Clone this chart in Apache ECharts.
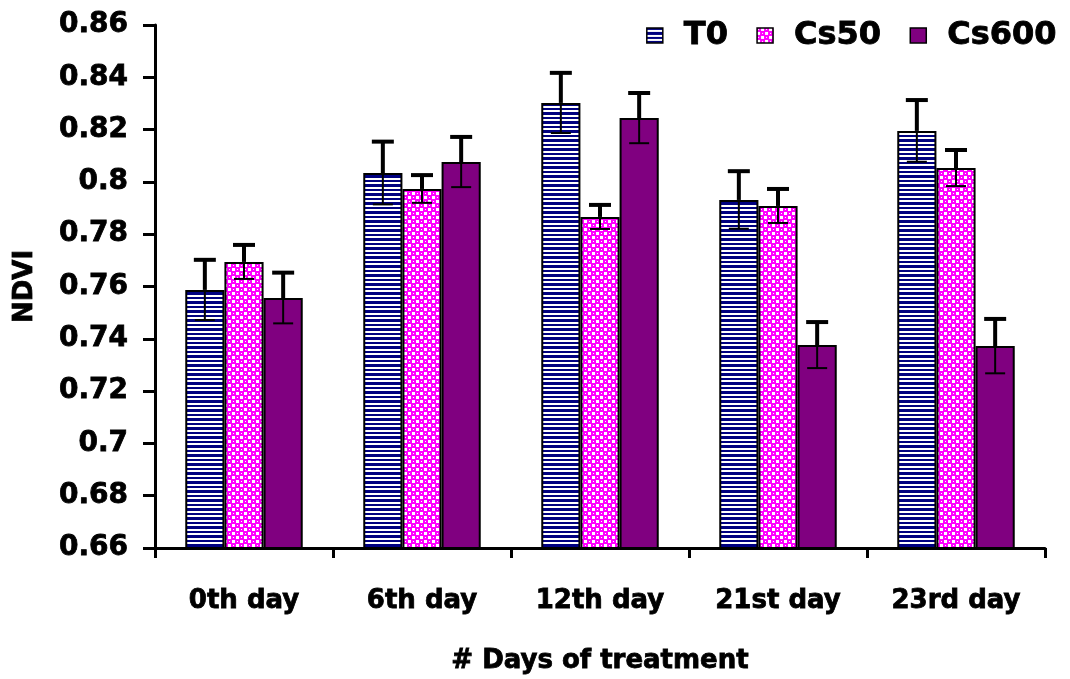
<!DOCTYPE html>
<html><head><meta charset="utf-8">
<script src="https://cdn.jsdelivr.net/npm/echarts@6/dist/echarts.min.js"></script>
<style>html,body{margin:0;padding:0;background:#fff}#c{width:1070px;height:679px}</style>
</head><body><div id="c"></div>
<script>
const categories = ['0th day', '6th day', '12th day', '21st day', '23rd day'];
const seriesNames = ['T0', 'Cs50', 'Cs600'];
const T0 = [0.7587, 0.8034, 0.8302, 0.7931, 0.8195];
const Cs50 = [0.7694, 0.7973, 0.7866, 0.7908, 0.8053];
const Cs600 = [0.7556, 0.8076, 0.8244, 0.7376, 0.7372];
const T0err = [0.0115, 0.0120, 0.0115, 0.0110, 0.0118];
const Cs50err = [0.0065, 0.0053, 0.0046, 0.0065, 0.0069];
const Cs600err = [0.0097, 0.0096, 0.0096, 0.0088, 0.0104];

function stripePattern() {
  const c = document.createElement('canvas');
  c.width = 8; c.height = 9;
  const g = c.getContext('2d');
  g.fillStyle = '#ffffff'; g.fillRect(0, 0, 8, 9);
  g.fillStyle = '#000080';
  g.fillRect(0, 0, 8, 2);
  g.fillRect(0, 4, 8, 3);
  return c;
}
function dotPattern() {
  const c = document.createElement('canvas');
  c.width = 8; c.height = 8;
  const g = c.getContext('2d');
  g.fillStyle = '#ff00ff'; g.fillRect(0, 0, 8, 8);
  g.fillStyle = '#ffffff';
  g.fillRect(4, 0, 3, 3);
  g.fillRect(0, 4, 3, 3);
  g.fillRect(1, 1, 1, 1);
  g.fillRect(5, 5, 1, 1);
  return c;
}
const colors = [
  { image: stripePattern(), repeat: 'repeat' },
  { image: dotPattern(), repeat: 'repeat' },
  '#800080'
];
const values = [T0, Cs50, Cs600];
const errs = [T0err, Cs50err, Cs600err];
const errData = [];
for (let s = 0; s < 3; s++) for (let i = 0; i < categories.length; i++) errData.push([i, s, values[s][i], errs[s][i]]);

const GAP = 0.34;
const font = 'DejaVu Sans';
const heavy = { fontFamily: font, fontWeight: 'bold', color: '#000', textBorderColor: '#000', textBorderWidth: 0.8 };
const chart = echarts.init(document.getElementById('c'), null, { renderer: 'canvas' });
chart.setOption({
  animation: false,
  backgroundColor: '#fff',
  legend: {
    data: seriesNames, right: 8, top: 14, itemWidth: 16, itemHeight: 15, itemGap: 28, icon: 'rect',
    textStyle: Object.assign({}, heavy, { fontSize: 32, padding: [0, 0, 0, 16] }),
    itemStyle: { borderColor: '#000', borderWidth: 1.5 }
  },
  grid: { left: 155, right: 25, top: 25, bottom: 131, containLabel: false, outerBoundsMode: 'none' },
  xAxis: {
    type: 'category', data: categories,
    name: '# Days of treatment', nameLocation: 'middle', nameGap: 100,
    nameTextStyle: Object.assign({}, heavy, { fontSize: 26 }),
    axisLine: { lineStyle: { color: '#000', width: 3 } },
    axisTick: { show: true, length: 10, lineStyle: { color: '#000', width: 3 } },
    axisLabel: Object.assign({}, heavy, { fontSize: 26, margin: 40 }),
    splitLine: { show: false }
  },
  yAxis: {
    type: 'value', min: 0.66, max: 0.86, interval: 0.02,
    name: 'NDVI', nameLocation: 'middle', nameGap: 117, nameRotate: 90,
    nameTextStyle: Object.assign({}, heavy, { fontSize: 26 }),
    axisLine: { show: true, lineStyle: { color: '#000', width: 3 } },
    axisTick: { show: true, length: 12, lineStyle: { color: '#000', width: 3 } },
    axisLabel: Object.assign({}, heavy, { fontSize: 28, margin: 27,
      formatter: v => String(+v.toFixed(2)) }),
    splitLine: { show: false }
  },
  series: [
    ...seriesNames.map((n, s) => ({
      name: n, type: 'bar', data: values[s], barGap: '0%', barCategoryGap: (GAP * 100) + '%',
      itemStyle: { color: colors[s], borderColor: '#000', borderWidth: 2 }
    })),
    {
      type: 'custom', name: 'err', data: errData, z: 10,
      renderItem: (params, api) => {
        const cat = api.value(0), s = api.value(1), v = api.value(2), e = api.value(3);
        const p = api.coord([cat, v]);
        const bandW = api.size([1, 0])[0];
        const barW = bandW * (1 - GAP) / 3;
        const x = p[0] + (s - 1) * barW;
        const yt = api.coord([cat, v + e])[1];
        const yb = api.coord([cat, v - e])[1];
        const y = p[1];
        const st = { stroke: '#000', lineWidth: 4 };
        const sth = { stroke: '#000', lineWidth: 2 };
        return { type: 'group', children: [
          { type: 'line', shape: { x1: x, y1: yt, x2: x, y2: y }, style: st },
          { type: 'line', shape: { x1: x - 11, y1: yt, x2: x + 11, y2: yt }, style: st },
          { type: 'line', shape: { x1: x, y1: y, x2: x, y2: yb }, style: sth },
          { type: 'line', shape: { x1: x - 10, y1: yb, x2: x + 10, y2: yb }, style: sth }
        ] };
      }
    }
  ]
});
</script></body></html>
